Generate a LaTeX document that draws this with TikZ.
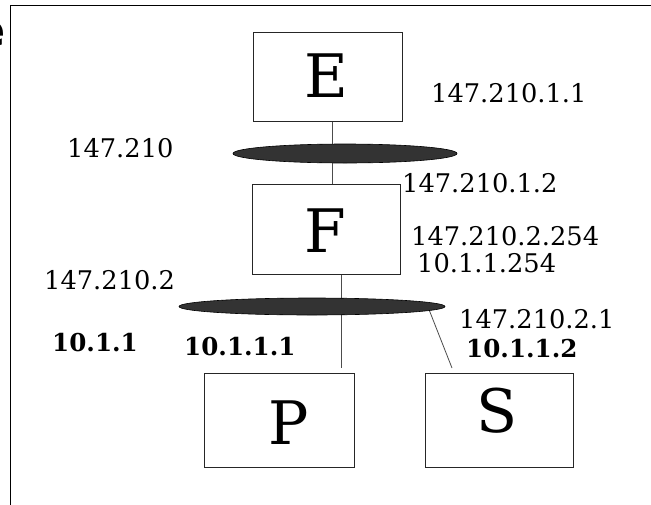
\documentclass[tikz,border=0pt]{standalone}
\usepackage{fontspec}
\setmainfont{DejaVu Serif}
\newfontfamily\titlefont{DejaVu Sans}
\usetikzlibrary{shapes.geometric}
\begin{document}
\begin{tikzpicture}[x=1pt,y=-1pt,
  hostbox/.style={draw=black!85,line width=1pt,rectangle,inner sep=0,fill=white},
  hostname/.style={anchor=base,inner sep=0,font=\fontsize{60}{60}\selectfont},
  addr/.style={anchor=base west,inner sep=0,font=\fontsize{25.7}{26}\selectfont},
  baddr/.style={anchor=base west,inner sep=0,font=\bfseries\fontsize{24.6}{25}\selectfont},
  net/.style={draw=black,line width=0.6pt,ellipse,fill=black!80,inner sep=0},
  wire/.style={draw=black!70,line width=0.8pt}]
\useasboundingbox (0,0) rectangle (651,504);
% frame
\draw[line width=1.3pt] (10.5,520) -- (10.5,5.5) -- (670,5.5);
\node[anchor=base east,inner sep=0,font=\titlefont\bfseries\fontsize{46}{46}\selectfont] (title) at (6,46) {e};
% hosts
\node[hostbox,minimum width=149,minimum height=89] (E) at (327.5,76.5) {};
\node[hostbox,minimum width=148,minimum height=90] (F) at (326,229) {};
\node[hostbox,minimum width=150,minimum height=94] (P) at (279,420) {};
\node[hostbox,minimum width=148,minimum height=94] (S) at (499,420) {};
\node[hostname] (tE) at (326.5,97) {E};
\node[hostname] (tF) at (325,252) {F};
\node[hostname] (tP) at (289,444) {P};
\node[hostname] (tS) at (497,432) {S};
% addresses
\node[addr] (a1) at (431,102) {147.210.1.1};
\node[addr] (a2) at (67,157) {147.210};
\node[addr] (a3) at (402,192) {147.210.1.2};
\node[addr] (a4) at (411,245) {147.210.2.254};
\node[addr] (a5) at (417,272) {10.1.1.254};
\node[addr] (a6) at (44,289) {147.210.2};
\node[addr] (a7) at (459,328) {147.210.2.1};
\node[baddr] (b1) at (52,351) {10.1.1};
\node[baddr] (b2) at (184,355) {10.1.1.1};
\node[baddr] (b3) at (466,357) {10.1.1.2};
% wires
\coordinate (sTop) at (452,368);
\coordinate (sBase) at (427.6,306);
\draw[wire] ([xshift=4.5pt]E.south) -- ([xshift=4.5pt]E.south |- F.north);
\draw[wire] ([xshift=15pt]F.south) -- ([xshift=15pt,yshift=5pt]F.south |- P.north);
\draw[wire] (sBase) -- (sTop);
% networks
\node[net,minimum width=224,minimum height=19] (N1) at (345,153.5) {};
\node[net,minimum width=266,minimum height=17] (N2) at (312,306.5) {};
\end{tikzpicture}
\end{document}
